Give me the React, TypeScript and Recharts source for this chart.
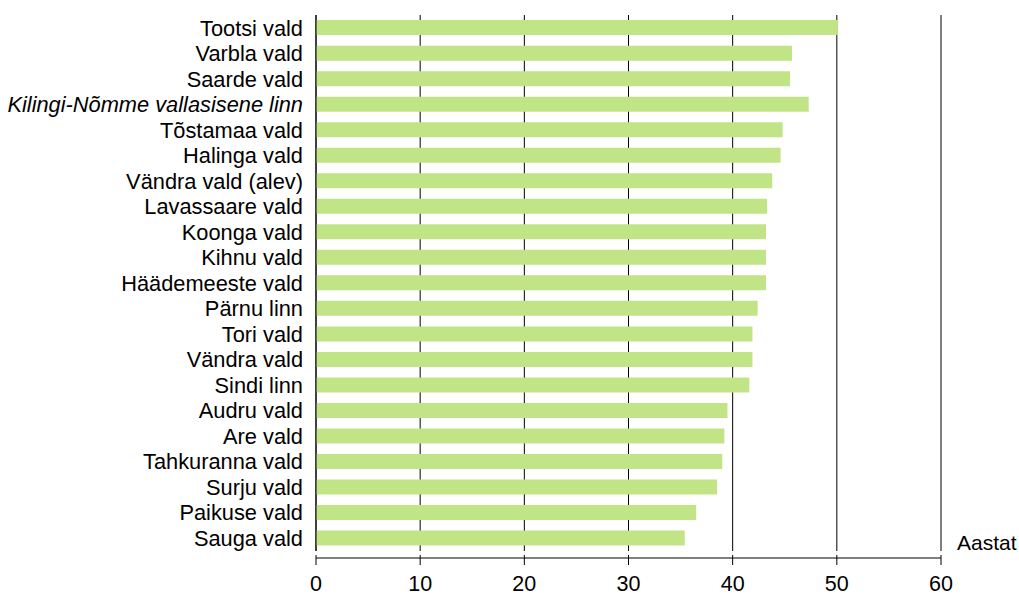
import React from 'react';
import { BarChart, Bar, XAxis, YAxis, CartesianGrid } from 'recharts';

const categories = [
  'Tootsi vald',
  'Varbla vald',
  'Saarde vald',
  'Kilingi-Nõmme vallasisene linn',
  'Tõstamaa vald',
  'Halinga vald',
  'Vändra vald (alev)',
  'Lavassaare vald',
  'Koonga vald',
  'Kihnu vald',
  'Häädemeeste vald',
  'Pärnu linn',
  'Tori vald',
  'Vändra vald',
  'Sindi linn',
  'Audru vald',
  'Are vald',
  'Tahkuranna vald',
  'Surju vald',
  'Paikuse vald',
  'Sauga vald',
];

const values = [
  50.1, 45.7, 45.5, 47.3, 44.8, 44.6, 43.8, 43.3, 43.2, 43.2, 43.2, 42.4, 41.9, 41.9, 41.6, 39.5,
  39.2, 39.0, 38.5, 36.5, 35.4,
];

const italicCategories = ['Kilingi-Nõmme vallasisene linn'];
const xTicks = [0, 10, 20, 30, 40, 50, 60];
const axisTitle = 'Aastat';

const data = categories.map((name, i) => ({ name, value: values[i] }));

const FONT = 'Liberation Sans, Arial, sans-serif';

const YTick = (props: any) => {
  const { x, y, payload } = props;
  const italic = italicCategories.includes(payload.value);
  return (
    <text
      x={x}
      y={y}
      dy="0.355em"
      textAnchor="end"
      fill="#000"
      fontSize={21.8}
      fontFamily={FONT}
      fontStyle={italic ? 'italic' : 'normal'}
    >
      {payload.value}
    </text>
  );
};

const AxisTitle = (props: any) => {
  const vb = props.viewBox || {};
  return (
    <text
      x={vb.x + vb.width + 16}
      y={vb.y - 1}
      fill="#000"
      fontSize={21}
      fontFamily={FONT}
    >
      {axisTitle}
    </text>
  );
};

export default function App() {
  return (
    <div style={{ position: 'absolute', left: 0, top: 0, fontFamily: FONT, background: '#fff' }}>
      <BarChart
        width={1019}
        height={594}
        data={data}
        layout="vertical"
        margin={{ top: 15, right: 78, bottom: 0, left: 0 }}
        barCategoryGap="20%"
      >
        <CartesianGrid horizontal={false} vertical={true} stroke="#000" strokeWidth={1} />
        <XAxis
          type="number"
          domain={[0, 60]}
          ticks={xTicks}
          interval={0}
          height={43}
          tickSize={10}
          tickMargin={15}
          axisLine={{ stroke: '#000', transform: 'translate(0,7)' } as any}
          tickLine={{ stroke: '#000', transform: 'translate(0,4)' } as any}
          tick={{ fill: '#000', fontSize: 21.5, fontFamily: FONT }}
          label={<AxisTitle />}
        />
        <YAxis
          type="category"
          dataKey="name"
          width={316}
          tickSize={0}
          tickMargin={13}
          tickLine={false}
          axisLine={{ stroke: '#000' }}
          tick={<YTick />}
          interval={0}
        />
        <Bar dataKey="value" fill="#C1E486" isAnimationActive={false} />
      </BarChart>
    </div>
  );
}
